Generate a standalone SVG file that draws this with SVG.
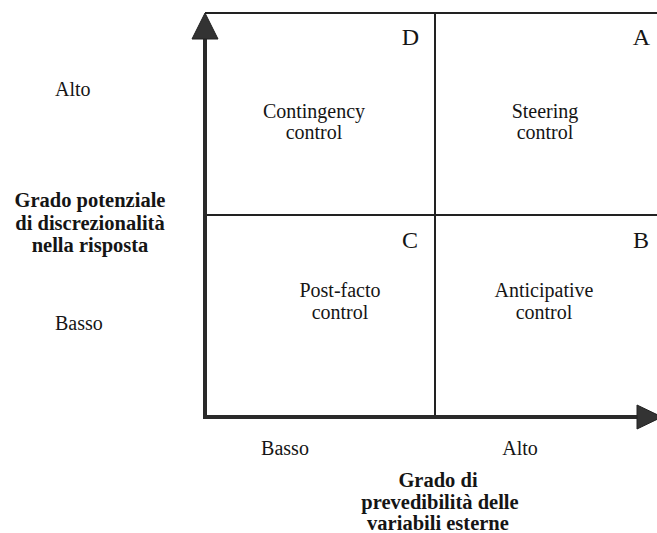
<svg xmlns="http://www.w3.org/2000/svg" width="657" height="533" viewBox="0 0 657 533">
  <style>
    .txt { font-family: "Liberation Serif", "Times New Roman", serif; fill: #151515; }
    .cell { font-size: 20px; text-anchor: middle; }
    .tag { font-size: 24px; text-anchor: end; }
    .lvl { font-size: 20px; }
    .axisname { font-size: 20.5px; font-weight: bold; text-anchor: middle; }
    .grid { stroke: #222; stroke-width: 2; fill: none; }
    .axis { stroke: #2a2a2a; stroke-width: 4; fill: none; }
    .head { fill: #333; stroke: #222; stroke-width: 1; }
  </style>

  <rect width="657" height="533" fill="#ffffff"/>

  <!-- grid lines of the matrix -->
  <g id="connectors">
    <line class="grid" x1="205" y1="13" x2="657" y2="13"/>
    <line class="grid" x1="205" y1="215" x2="657" y2="215"/>
    <line class="grid" x1="435" y1="13" x2="435" y2="417"/>
    <!-- vertical axis -->
    <line class="axis" x1="205" y1="419" x2="205" y2="36"/>
    <polygon class="head" points="205,13 192,39 218,39"/>
    <!-- horizontal axis -->
    <line class="axis" x1="203" y1="417" x2="640" y2="417"/>
    <polygon class="head" points="637,405 637,429 662,417"/>
  </g>

  <!-- quadrants -->
  <g id="quadrant-d">
    <text class="txt tag" x="419" y="45">D</text>
    <text class="txt cell" x="314" y="118">Contingency</text>
    <text class="txt cell" x="314" y="139">control</text>
  </g>
  <g id="quadrant-a">
    <text class="txt tag" x="650" y="45">A</text>
    <text class="txt cell" x="545" y="118">Steering</text>
    <text class="txt cell" x="545" y="139">control</text>
  </g>
  <g id="quadrant-c">
    <text class="txt tag" x="418" y="248">C</text>
    <text class="txt cell" x="340" y="297">Post-facto</text>
    <text class="txt cell" x="340" y="319">control</text>
  </g>
  <g id="quadrant-b">
    <text class="txt tag" x="649" y="248">B</text>
    <text class="txt cell" x="544" y="297">Anticipative</text>
    <text class="txt cell" x="544" y="319">control</text>
  </g>

  <!-- vertical axis labels -->
  <g id="y-axis-labels">
    <text class="txt lvl" x="55" y="96">Alto</text>
    <text class="txt lvl" x="55" y="330">Basso</text>
    <text class="txt axisname" x="90" y="207">Grado potenziale</text>
    <text class="txt axisname" x="90" y="230">di discrezionalità</text>
    <text class="txt axisname" x="90" y="252">nella risposta</text>
  </g>

  <!-- horizontal axis labels -->
  <g id="x-axis-labels">
    <text class="txt lvl" x="285" y="455" text-anchor="middle">Basso</text>
    <text class="txt lvl" x="520" y="455" text-anchor="middle">Alto</text>
    <text class="txt axisname" x="438" y="487">Grado di</text>
    <text class="txt axisname" x="440" y="509">prevedibilità delle</text>
    <text class="txt axisname" x="438" y="530">variabili esterne</text>
  </g>
</svg>
